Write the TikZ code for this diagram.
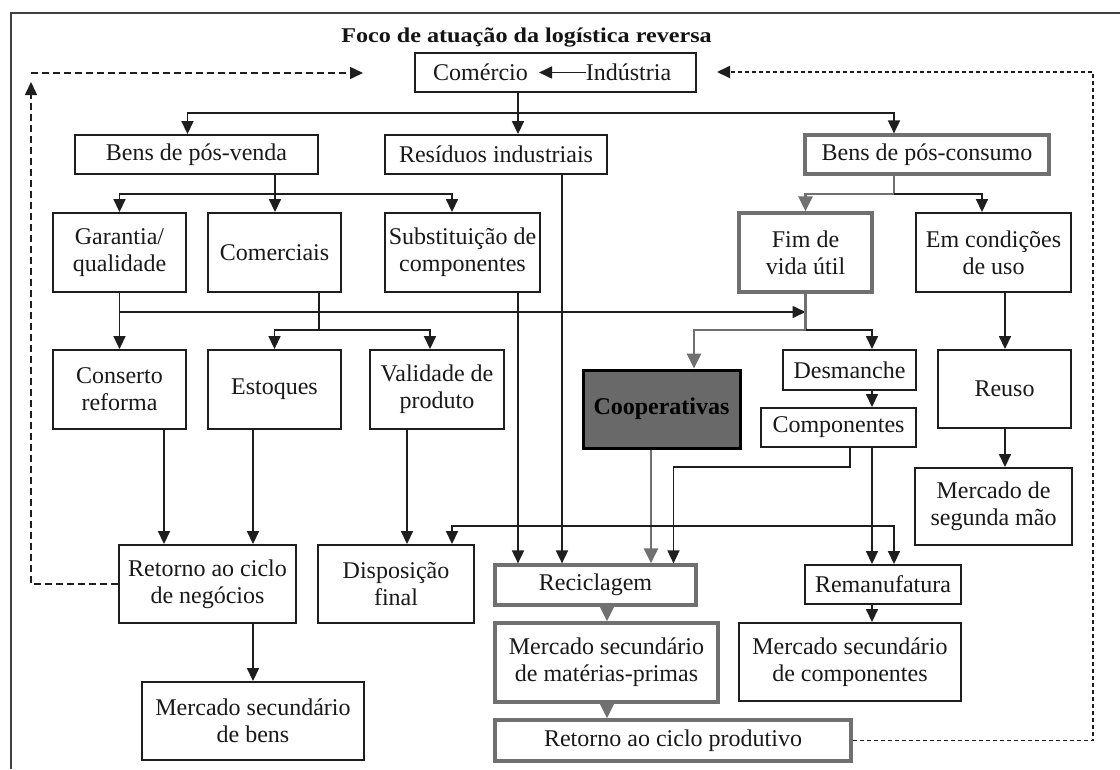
\documentclass[tikz,border=0pt]{standalone}
\usepackage{fontspec}
\setmainfont{Liberation Serif}
\usetikzlibrary{arrows.meta}
\definecolor{lnc}{RGB}{30,30,30}
\definecolor{grc}{RGB}{112,112,112}
\definecolor{coopfill}{RGB}{105,105,105}
\tikzset{
  txt/.style={inner sep=0pt, align=center, text=black!90, font=\fontsize{24}{27}\selectfont},
  box/.style={txt, draw=lnc, line width=1.9pt},
  gbox/.style={txt, draw=grc, line width=3.2pt},
  cbox/.style={txt, draw=black, line width=3pt, fill=coopfill, text=black, font=\fontsize{24}{27}\selectfont\bfseries},
  tip/.style={-{Triangle[length=13pt,width=12pt]}},
  gtip/.style={-{Triangle[length=15pt,width=14pt]}},
  wire/.style={draw=lnc, line width=1.7pt},
  gwire/.style={draw=grc, line width=2.8pt},
  arr/.style={wire, tip},
  garr/.style={gwire, gtip},
  dashl/.style={draw=lnc, line width=1.6pt, dash pattern=on 7pt off 4pt},
  dashr/.style={draw=lnc, line width=1.8pt, dash pattern=on 4pt off 3pt},
}
\begin{document}
\begin{tikzpicture}[x=1pt, y=-1pt]
\useasboundingbox (0,0) rectangle (1120,769);
\fill[white] (0,0) rectangle (1120,769);
% frame
\draw[line width=2.4pt, draw=black!75] (10.7,769) -- (10.7,13) -- (1120,13);
% title
\node[inner sep=0pt, text=black!92, font=\fontsize{21}{23}\selectfont\bfseries] (title) at (526.5,37) {\scalebox{1.15}[1]{Foco de atuação da logística reversa}};
% top box
\node[box, minimum width=281pt, minimum height=39pt] (com) at (555.5,72.5) {};
\node[txt] (tcom) at (480.5,72.5) {Comércio};
\node[txt] (tind) at (628.5,72.5) {Indústria};
\draw[arr] (tind.west) -- ([xshift=11pt]tcom.east);
% level 1
\node[box, minimum width=243pt, minimum height=39pt] (bpv) at (196.5,154.5) {Bens de pós-venda};
\node[box, minimum width=222pt, minimum height=39pt] (res) at (496,154.5) {Resíduos industriais};
\node[gbox, minimum width=244pt, minimum height=39pt] (bpc) at (927,154.5) {Bens de pós-consumo};
% level 2
\node[box, minimum width=133pt, minimum height=79pt] (gar) at (119.5,252.5) {Garantia/\\qualidade};
\node[box, minimum width=133pt, minimum height=79pt] (cmc) at (274.5,252.5) {Comerciais};
\node[box, minimum width=155pt, minimum height=79pt] (sub) at (462.5,252.5) {Substituição de\\componentes};
\node[gbox, minimum width=133pt, minimum height=79pt] (fim) at (805.5,252.5) {Fim de\\vida útil};
\node[box, minimum width=155pt, minimum height=79pt] (emc) at (993.5,252.5) {Em condições\\de uso};
% level 3
\node[box, minimum width=133pt, minimum height=79pt] (con) at (119.5,389.5) {Conserto\\reforma};
\node[box, minimum width=133pt, minimum height=79pt] (est) at (274.5,389.5) {Estoques};
\node[box, minimum width=134pt, minimum height=79pt] (val) at (437,389.5) {Validade de\\produto};
\node[cbox, minimum width=157pt, minimum height=78pt] (coop) at (661.5,409) {Cooperativas};
\node[box, minimum width=133pt, minimum height=40pt] (des) at (849.5,370) {Desmanche};
\node[box, minimum width=155pt, minimum height=39pt] (cmp) at (838.5,427.5) {Componentes};
\node[box, minimum width=133pt, minimum height=78pt] (reu) at (1004.5,389) {Reuso};
\node[box, minimum width=157pt, minimum height=77pt] (msm) at (993.5,506.5) {Mercado de\\segunda mão};
% level 4
\node[box, minimum width=177pt, minimum height=78pt] (rng) at (207.5,584) {Retorno ao ciclo\\de negócios};
\node[box, minimum width=156pt, minimum height=78pt] (dis) at (396,584) {Disposição\\final};
\node[gbox, minimum width=201pt, minimum height=40pt] (rec) at (595.5,585) {Reciclagem};
\node[box, minimum width=156pt, minimum height=39pt] (rem) at (883,584.5) {Remanufatura};
% level 5
\node[gbox, minimum width=223pt, minimum height=79pt] (mmp) at (606.5,662.5) {Mercado secundário\\de matérias-primas};
\node[box, minimum width=222pt, minimum height=78pt] (mcp) at (850,662) {Mercado secundário\\de componentes};
\node[box, minimum width=222pt, minimum height=78pt] (mbe) at (253,721) {Mercado secundário\\de bens};
\node[gbox, minimum width=356pt, minimum height=41pt] (rcp) at (673,740.5) {Retorno ao ciclo produtivo};
% helper coordinates
\coordinate (j0) at (518,113);
\coordinate (h0l) at (187.5,113);
\coordinate (h0r) at (894,113);
\coordinate (j1) at (275,194);
\coordinate (c452) at (452,194);
\coordinate (j2) at (894,194);
\coordinate (c982) at (982,194);
\coordinate (j3) at (119.5,312);
\coordinate (j4) at (319,330);
\coordinate (c430) at (430,330);
\coordinate (j5) at (805.5,330);
\coordinate (c694) at (694,330);
\coordinate (c872) at (872,330);
\coordinate (c1005) at (1005,0);
\coordinate (c164) at (164,0);
\coordinate (c253) at (253,0);
\coordinate (c407) at (407,0);
\coordinate (c518) at (518,0);
\coordinate (c562) at (562,0);
\coordinate (c651) at (651,0);
\coordinate (c607) at (607,0);
\coordinate (k1) at (850,467);
\coordinate (k2) at (673.5,467);
\coordinate (k3) at (872,526);
\coordinate (k4) at (452,526);
\coordinate (k5) at (894,526);
% top connectors
\draw[wire] (com.south -| j0) -- (j0);
\draw[arr] (j0) -- (res.north -| j0);
\draw[arr] (j0) -- (h0l) -- (bpv.north -| h0l);
\draw[arr] (j0) -- (h0r) -- (bpc.north -| h0r);
% pos-venda
\draw[wire] (bpv.south -| j1) -- (j1);
\draw[arr] (j1) -| (gar.north);
\draw[arr] (j1) -- (cmc.north -| j1);
\draw[arr] (j1) -- (c452) -- (sub.north -| c452);
% pos-consumo
\draw[gwire] (bpc.south -| j2) -- (j2);
\draw[garr] (j2) -| (fim.north);
\draw[arr] (j2) -- (c982) -- (emc.north -| c982);
% garantia
\draw[wire] (gar.south) -- (j3);
\draw[arr] (j3) -- (con.north);
\draw[arr] (j3) -- (fim.south |- j3);
% comerciais
\draw[wire] (cmc.south -| j4) -- (j4);
\draw[arr] (j4) -| (est.north);
\draw[arr] (j4) -- (c430) -- (val.north -| c430);
% fim de vida
\draw[gwire] (fim.south) -- (j5);
\draw[garr] (j5) -- (c694) -- (coop.north -| c694);
\draw[arr] (j5) -- (c872) -- (des.north -| c872);
\draw[arr] (des.south -| c872) -- (cmp.north -| c872);
% em condicoes
\draw[arr] (emc.south -| c1005) -- (reu.north -| c1005);
\draw[arr] (reu.south -| c1005) -- (msm.north -| c1005);
% down to level 4
\draw[arr] (con.south -| c164) -- (rng.north -| c164);
\draw[arr] (est.south -| c253) -- (rng.north -| c253);
\draw[arr] (val.south -| c407) -- (dis.north -| c407);
\draw[arr] (sub.south -| c518) -- (rec.north -| c518);
\draw[arr] (res.south -| c562) -- (rec.north -| c562);
\draw[garr] (coop.south -| c651) -- (rec.north -| c651);
\draw[arr] (cmp.south -| k1) -- (k1) -- (k2) -- (rec.north -| k2);
\draw[arr] (cmp.south -| k3) -- (rem.north -| k3);
\draw[arr] (k3) -- (k4) -- (dis.north -| k4);
\draw[arr] (k3) -- (k5) -- (rem.north -| k5);
% lower
\draw[arr] (rng.south -| c253) -- (mbe.north -| c253);
\draw[garr] (rec.south -| c607) -- (mmp.north -| c607);
\draw[garr] (mmp.south -| c607) -- (rcp.north -| c607);
\draw[arr] (rem.south -| c872) -- (mcp.north -| c872);
% dashed feedback
\coordinate (d1) at (31,584);
\coordinate (d2) at (31,82);
\coordinate (d3) at (31,73);
\coordinate (d4) at (363,73);
\draw[dashl, tip] (rng.west) -- (d1) -- (d2);
\draw[dashl, tip] (d3) -- (d4);
\coordinate (e1) at (1093,740.5);
\coordinate (e2) at (1093,72);
\coordinate (e3) at (717,72);
\draw[dashr, tip] (rcp.east) -- (e1) -- (e2) -- (e3);
\end{tikzpicture}
\end{document}
